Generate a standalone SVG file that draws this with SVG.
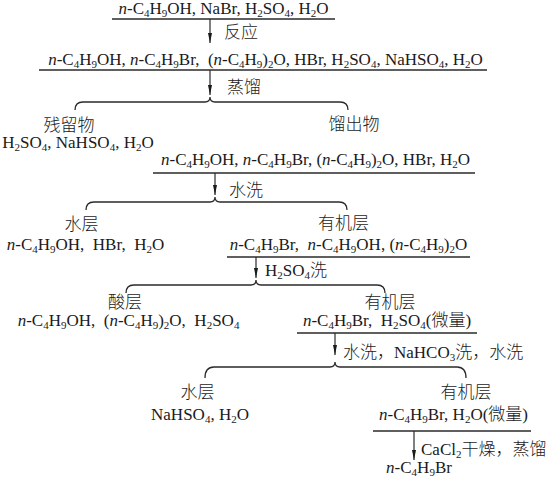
<svg xmlns="http://www.w3.org/2000/svg" width="550" height="478" viewBox="0 0 550 478">
<style>
text{font-family:"Liberation Serif","Noto Sans CJK SC",serif;font-size:17px;font-weight:300;fill:#1a1a1a}
.m{text-anchor:middle}
.i{font-style:italic}
.b{font-size:11px;baseline-shift:-3px}
.ul{stroke:#2a2a2a;stroke-width:1.3;fill:none}
.ar{stroke:#2a2a2a;stroke-width:1.2;fill:none;marker-end:url(#ah)}
.br{stroke:#2a2a2a;stroke-width:1.3;fill:none}
</style>
<defs>
<marker id="ah" viewBox="0 0 10 4" refX="10" refY="2" markerWidth="10" markerHeight="4" markerUnits="userSpaceOnUse" orient="auto">
<path d="M0,0 L10,2 L0,4 Z" fill="#1a1a1a"/>
</marker>
</defs>
<rect width="550" height="478" fill="#fff"/>

<g id="connectors">
<line class="ar" x1="210" y1="19" x2="210" y2="43"/>
<line class="ar" x1="210" y1="70" x2="210" y2="95"/>
<line class="ar" x1="215" y1="173" x2="215" y2="195"/>
<line class="ar" x1="256" y1="257" x2="256" y2="278"/>
<line class="ar" x1="335" y1="333" x2="335" y2="355"/>
<line class="ar" x1="414" y1="431" x2="414" y2="460"/>
<path class="br" d="M75,110 Q75,102 83,102 L205,102 Q210,102 210,97 Q210,102 215,102 L340,102 Q348,102 348,110"/>
<path class="br" d="M86,210 Q86,202 94,202 L210,202 Q215,202 215,197 Q215,202 220,202 L339,202 Q347,202 347,210"/>
<path class="br" d="M126,293 Q126,285 134,285 L251,285 Q256,285 256,280 Q256,285 261,285 L377,285 Q385,285 385,293"/>
<path class="br" d="M205,378 Q205,367 214,367 L330,367 Q335,367 335,362 Q335,367 340,367 L457,367 Q466,367 466,378"/>
<text x="224" y="38">反应</text>
<text x="227" y="93">蒸馏</text>
<text x="229" y="196">水洗</text>
<text x="265" y="276">H<tspan class="b">2</tspan>SO<tspan class="b">4</tspan>洗</text>
<text x="343" y="358">水洗，NaHCO<tspan class="b">3</tspan>洗，水洗</text>
<text x="421" y="455">CaCl<tspan class="b">2</tspan>干燥，蒸馏</text>
</g>

<g id="start">
<text class="m" x="223.5" y="14"><tspan class="i">n</tspan>-C<tspan class="b">4</tspan>H<tspan class="b">9</tspan>OH, NaBr, H<tspan class="b">2</tspan>SO<tspan class="b">4</tspan>, H<tspan class="b">2</tspan>O</text>
<line class="ul" x1="112" y1="19" x2="335" y2="19"/>
</g>

<g id="reaction-mixture">
<text class="m" x="265.5" y="65"><tspan class="i">n</tspan>-C<tspan class="b">4</tspan>H<tspan class="b">9</tspan>OH, <tspan class="i">n</tspan>-C<tspan class="b">4</tspan>H<tspan class="b">9</tspan>Br, &#160;(<tspan class="i">n</tspan>-C<tspan class="b">4</tspan>H<tspan class="b">9</tspan>)<tspan class="b">2</tspan>O, HBr, H<tspan class="b">2</tspan>SO<tspan class="b">4</tspan>, NaHSO<tspan class="b">4</tspan>, H<tspan class="b">2</tspan>O</text>
<line class="ul" x1="39" y1="70" x2="487" y2="70"/>
</g>

<g id="residue">
<text class="m" x="69" y="131">残留物</text>
<text class="m" x="78" y="148">H<tspan class="b">2</tspan>SO<tspan class="b">4</tspan>, NaHSO<tspan class="b">4</tspan>, H<tspan class="b">2</tspan>O</text>
</g>

<g id="distillate">
<text class="m" x="354" y="130">馏出物</text>
<text class="m" x="315.5" y="165"><tspan class="i">n</tspan>-C<tspan class="b">4</tspan>H<tspan class="b">9</tspan>OH, <tspan class="i">n</tspan>-C<tspan class="b">4</tspan>H<tspan class="b">9</tspan>Br, (<tspan class="i">n</tspan>-C<tspan class="b">4</tspan>H<tspan class="b">9</tspan>)<tspan class="b">2</tspan>O, HBr, H<tspan class="b">2</tspan>O</text>
<line class="ul" x1="153" y1="173" x2="475" y2="173"/>
</g>

<g id="aqueous-1">
<text class="m" x="81.5" y="230">水层</text>
<text class="m" x="85.5" y="250"><tspan class="i">n</tspan>-C<tspan class="b">4</tspan>H<tspan class="b">9</tspan>OH, &#160;HBr, &#160;H<tspan class="b">2</tspan>O</text>
</g>

<g id="organic-1">
<text class="m" x="343.5" y="229">有机层</text>
<text class="m" x="348.5" y="250"><tspan class="i">n</tspan>-C<tspan class="b">4</tspan>H<tspan class="b">9</tspan>Br, &#160;<tspan class="i">n</tspan>-C<tspan class="b">4</tspan>H<tspan class="b">9</tspan>OH, (<tspan class="i">n</tspan>-C<tspan class="b">4</tspan>H<tspan class="b">9</tspan>)<tspan class="b">2</tspan>O</text>
<line class="ul" x1="227" y1="257" x2="470" y2="257"/>
</g>

<g id="acid-layer">
<text class="m" x="125" y="308">酸层</text>
<text class="m" x="128.5" y="326"><tspan class="i">n</tspan>-C<tspan class="b">4</tspan>H<tspan class="b">9</tspan>OH, &#160;(<tspan class="i">n</tspan>-C<tspan class="b">4</tspan>H<tspan class="b">9</tspan>)<tspan class="b">2</tspan>O, &#160;H<tspan class="b">2</tspan>SO<tspan class="b">4</tspan></text>
</g>

<g id="organic-2">
<text class="m" x="390" y="308">有机层</text>
<text class="m" x="387" y="326"><tspan class="i">n</tspan>-C<tspan class="b">4</tspan>H<tspan class="b">9</tspan>Br, &#160;H<tspan class="b">2</tspan>SO<tspan class="b">4</tspan>(微量)</text>
<line class="ul" x1="297" y1="333" x2="477" y2="333"/>
</g>

<g id="aqueous-2">
<text class="m" x="197.5" y="398">水层</text>
<text class="m" x="200" y="420">NaHSO<tspan class="b">4</tspan>, H<tspan class="b">2</tspan>O</text>
</g>

<g id="organic-3">
<text class="m" x="466" y="398">有机层</text>
<text class="m" x="453.5" y="420"><tspan class="i">n</tspan>-C<tspan class="b">4</tspan>H<tspan class="b">9</tspan>Br, H<tspan class="b">2</tspan>O(微量)</text>
<line class="ul" x1="373" y1="431" x2="531" y2="431"/>
</g>

<g id="product">
<text class="m" x="419" y="473"><tspan class="i">n</tspan>-C<tspan class="b">4</tspan>H<tspan class="b">9</tspan>Br</text>
</g>
</svg>
